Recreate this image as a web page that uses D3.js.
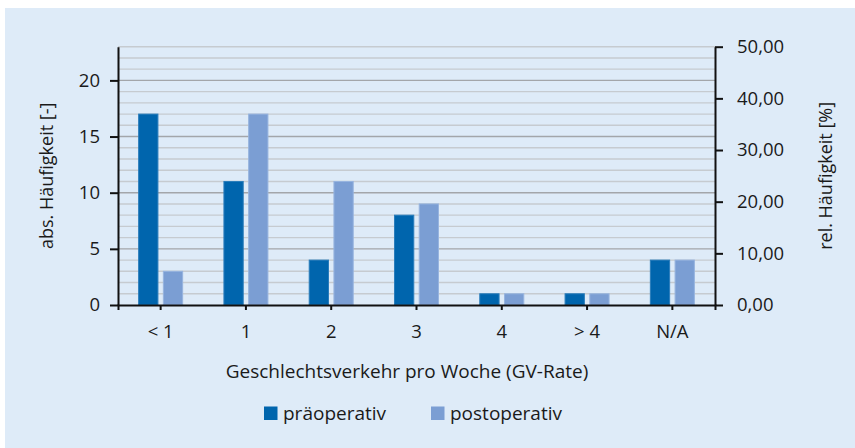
<!DOCTYPE html>
<html>
<head>
<meta charset="UTF-8">
<style>
body {
	margin: 0 ;
	background-color: #ffffff ;
	font-family: "Open Sans", "Noto Sans", sans-serif ;
}
text {
	fill: #1a1a1a ;
}
</style>
<title>GV-Rate</title>
<script src="https://cdn.jsdelivr.net/npm/d3@7/dist/d3.min.js"></script>
</head>
<body>
<div id="chart"></div>
<script type="text/javascript" charset="utf-8">

	// values
	const categories = [ "< 1", "1", "2", "3", "4", "> 4", "N/A" ] ;
	const praeoperativ = [ 17, 11, 4, 8, 1, 1, 4 ] ;
	const postoperativ = [ 3, 17, 11, 9, 1, 1, 4 ] ;
	const seriesNames = [ "präoperativ", "postoperativ" ] ;
	const leftTicks = [ 0, 5, 10, 15, 20 ] ;
	const rightTicks = [ 0, 10, 20, 30, 40, 50 ] ;

	const width = 855 ;
	const height = 448 ;
	const colors = [ "#0065ad", "#7b9ed3" ] ;
	const strokes = [ "#2a7dbb", "#97b4df" ] ;

	const plot = { left: 118, right: 715, top: 46.7, bottom: 305 } ;

	const svg = d3.select( "#chart" ).append( "svg" )
		.attr( "width", width )
		.attr( "height", height ) ;

	// background panel
	svg.append( "rect" )
		.attr( "x", 5 ).attr( "y", 8 )
		.attr( "width", width - 5 ).attr( "height", height - 8 )
		.attr( "fill", "#deebf8" ) ;

	const x0 = d3.scaleBand()
		.domain( categories )
		.range( [ plot.left, plot.right ] ) ;

	const x1 = d3.scaleBand()
		.domain( seriesNames )
		.range( [ 0, x0.bandwidth() ] )
		.paddingInner( 0.22 )
		.paddingOuter( 0.835 ) ;

	const yL = d3.scaleLinear().domain( [ 0, 23 ] ).range( [ plot.bottom, plot.top ] ) ;
	const yR = d3.scaleLinear().domain( [ 0, 50 ] ).range( [ plot.bottom, plot.top ] ) ;

	// grid lines, one per unit, darker every 5
	svg.append( "g" )
		.selectAll( "line" )
		.data( d3.range( 1, 24 ) )
		.enter()
			.append( "line" )
				.attr( "x1", plot.left )
				.attr( "x2", plot.right )
				.attr( "y1", function(d) { return yL(d) } )
				.attr( "y2", function(d) { return yL(d) } )
				.attr( "stroke", function(d) { return d % 5 == 0 ? "#a3a6aa" : "#c6cbd0" } )
				.attr( "stroke-width", 1.4 ) ;

	// bars
	const series = [ praeoperativ, postoperativ ] ;
	const groups = svg.append( "g" )
		.selectAll( "g" )
		.data( categories )
		.enter()
			.append( "g" )
				.attr( "transform", function(d) { return "translate(" + x0(d) + ",0)" } ) ;

	groups.selectAll( "rect" )
		.data( function(d, i) {
			return seriesNames.map( function(s, j) { return { name: s, idx: j, value: series[j][i] } } ) ;
		})
		.enter()
			.append( "rect" )
				.attr( "x", function(d) { return x1( d.name ) } )
				.attr( "width", x1.bandwidth() )
				.attr( "y", function(d) { return yL( d.value ) } )
				.attr( "height", function(d) { return yL(0) - yL( d.value ) } )
				.attr( "fill", function(d) { return colors[ d.idx ] } )
				.attr( "stroke", function(d) { return strokes[ d.idx ] } )
				.attr( "stroke-width", 1 ) ;

	// axes
	const leftAxis = svg.append( "g" )
		.attr( "transform", "translate(" + plot.left + ",0)" )
		.call( d3.axisLeft( yL ).tickValues( leftTicks ).tickSize( 8 ).tickSizeOuter( 0 ).tickPadding( 10 ) ) ;

	const rightAxis = svg.append( "g" )
		.attr( "transform", "translate(" + plot.right + ",0)" )
		.call( d3.axisRight( yR ).tickValues( rightTicks ).tickSize( 8 ).tickSizeOuter( 0 ).tickPadding( 14 )
			.tickFormat( function(d) { return d.toFixed( 2 ).replace( ".", "," ) } ) ) ;

	const bottomAxis = svg.append( "g" )
		.attr( "transform", "translate(0," + plot.bottom + ")" )
		.call( d3.axisBottom( x0 ).tickSize( 5 ).tickSizeOuter( 5 ).tickPadding( 15 ) ) ;

	[ leftAxis, rightAxis, bottomAxis ].forEach( function(a) {
		a.selectAll( "path, line" ).attr( "stroke", "#111" ).attr( "stroke-width", 2 ) ;
		a.selectAll( "text" )
			.attr( "font-family", "'Open Sans', sans-serif" )
			.attr( "font-size", "18.5px" )
			.attr( "fill", "#1a1a1a" ) ;
	}) ;

	// axis titles
	svg.append( "text" )
		.attr( "transform", "translate(53," + ((plot.top + plot.bottom) / 2) + ") rotate(-90)" )
		.attr( "text-anchor", "middle" )
		.attr( "font-size", "18px" )
		.text( "abs. Häufigkeit [-]" ) ;

	svg.append( "text" )
		.attr( "transform", "translate(832," + ((plot.top + plot.bottom) / 2) + ") rotate(-90)" )
		.attr( "text-anchor", "middle" )
		.attr( "font-size", "18px" )
		.text( "rel. Häufigkeit [%]" ) ;

	svg.append( "text" )
		.attr( "x", 407 )
		.attr( "y", 378 )
		.attr( "text-anchor", "middle" )
		.attr( "font-size", "19px" )
		.text( "Geschlechtsverkehr pro Woche (GV-Rate)" ) ;

	// legend
	const legendX = [ 264, 431 ] ;
	const legend = svg.append( "g" )
		.selectAll( "g" )
		.data( seriesNames )
		.enter()
			.append( "g" )
				.attr( "transform", function(d, i) { return "translate(" + legendX[i] + ",406.5)" } ) ;
	legend.append( "rect" )
		.attr( "width", 13.5 ).attr( "height", 13.5 )
		.attr( "fill", function(d, i) { return colors[i] } ) ;
	legend.append( "text" )
		.attr( "x", 19 ).attr( "y", 13 )
		.attr( "font-size", "19px" )
		.text( function(d) { return d } ) ;

</script>
</body>
</html>
